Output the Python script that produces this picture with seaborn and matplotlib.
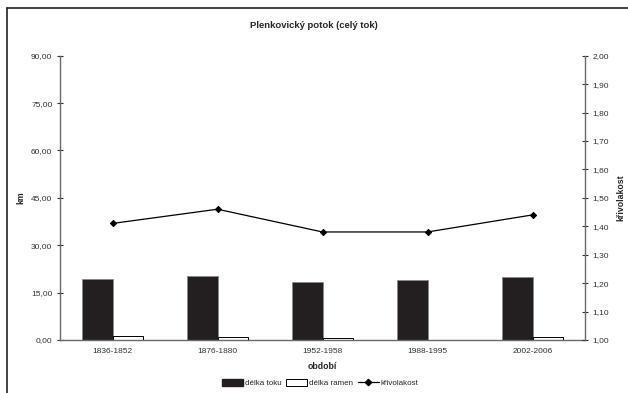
import matplotlib
matplotlib.use("Agg")
import matplotlib.pyplot as plt
from matplotlib.patches import Patch
from matplotlib.lines import Line2D
from matplotlib.ticker import FuncFormatter, FixedLocator, MultipleLocator
import seaborn as sns
import pandas as pd

# Data
periods = ["1836-1852", "1876-1880", "1952-1958", "1988-1995", "2002-2006"]
delka_toku = [19.2, 20.2, 18.4, 18.9, 20.0]
delka_ramen = [1.25, 1.05, 0.7, 0.0, 0.95]
krivolakost = [1.41, 1.46, 1.38, 1.38, 1.44]

sns.set_style("white")
plt.rcParams["font.family"] = ["Liberation Sans", "DejaVu Sans"]

df = pd.DataFrame({
    "období": periods * 2,
    "km": delka_toku + delka_ramen,
    "série": ["délka toku"] * len(periods) + ["délka ramen"] * len(periods),
})

fig = plt.figure(figsize=(6.28, 3.93), dpi=100)
ax = fig.add_axes([60 / 628, 1 - 340 / 393, 525 / 628, (340 - 55.7) / 393])

sns.barplot(data=df, x="období", y="km", hue="série",
            hue_order=["délka toku", "délka ramen"],
            palette=["#231f20", "white"], width=0.572, dodge=True,
            gap=0, legend=False, ax=ax, saturation=1)

n = len(periods)
for i, p in enumerate(ax.patches):
    if i < n:
        p.set_edgecolor("#8a8a8a")
        p.set_linewidth(0.6)
    else:
        p.set_edgecolor("black")
        p.set_linewidth(0.7)

ax.set_xlim(-0.5, n - 0.5)
ax.set_ylim(0, 90)
ax.yaxis.set_major_locator(MultipleLocator(15))
fmt = lambda v, pos: f"{v:.2f}".replace(".", ",")
ax.yaxis.set_major_formatter(FuncFormatter(fmt))

grey = "#6a6a6a"
for side in ["top", "right"]:
    ax.spines[side].set_visible(False)
for side in ["left", "bottom"]:
    ax.spines[side].set_color(grey)
    ax.spines[side].set_linewidth(1.0)

ax.tick_params(axis="y", direction="inout", length=5, width=0.8, color="#333333",
               labelsize=6, labelcolor="#333333", pad=3)
ax.tick_params(axis="x", which="major", length=0, labelsize=6,
               labelcolor="#333333", pad=6)
ax.xaxis.set_minor_locator(FixedLocator([k + 0.5 for k in range(n - 1)]))
ax.tick_params(axis="x", which="minor", direction="inout", length=6,
               width=0.8, color="#333333")

ax.set_xlabel("období", fontsize=6.3, fontweight="bold", labelpad=5)
ax.set_ylabel("km", fontsize=6.3, fontweight="bold", labelpad=4)

ax2 = ax.twinx()
sns.pointplot(x=periods, y=krivolakost, ax=ax2, color="black", markers="D",
              markersize=3.2, linewidth=0.9, errorbar=None)
ax2.set_xlim(-0.5, n - 0.5)
ax2.set_ylim(1.0, 2.0)
ax2.yaxis.set_major_locator(MultipleLocator(0.1))
ax2.yaxis.set_major_formatter(FuncFormatter(fmt))
for side in ["top", "left", "bottom"]:
    ax2.spines[side].set_visible(False)
ax2.spines["right"].set_color(grey)
ax2.spines["right"].set_linewidth(1.0)
ax2.tick_params(axis="y", direction="inout", length=5, width=0.8, color="#333333",
                labelsize=6, labelcolor="#333333", pad=3)
ax2.set_ylabel("křivolakost", fontsize=6.3, fontweight="bold", labelpad=5)

fig.text(0.5, 1 - 25 / 393, "Plenkovický potok (celý tok)", ha="center",
         va="center", fontsize=6.8, fontweight="bold")

handles = [
    Patch(facecolor="#231f20", edgecolor="#231f20", label="délka toku"),
    Patch(facecolor="white", edgecolor="black", linewidth=0.7, label="délka ramen"),
    Line2D([0], [0], color="black", marker="D", markersize=3.2, linewidth=0.9,
           label="křivolakost"),
]
fig.legend(handles=handles, loc="center", bbox_to_anchor=(0.51, 1 - 383 / 393),
           ncol=3, frameon=False, fontsize=5.8, handlelength=2.6,
           handleheight=0.9, handletextpad=0.2, columnspacing=0.6)

# Chart area frame
fig.add_artist(Line2D([7 / 628, 7 / 628], [0, 1 - 8 / 393], color="#222222",
                      linewidth=1.2, transform=fig.transFigure))
fig.add_artist(Line2D([7 / 628, 1], [1 - 8 / 393, 1 - 8 / 393], color="#222222",
                      linewidth=1.2, transform=fig.transFigure))

fig.savefig("out.png", dpi=100, facecolor="white")
